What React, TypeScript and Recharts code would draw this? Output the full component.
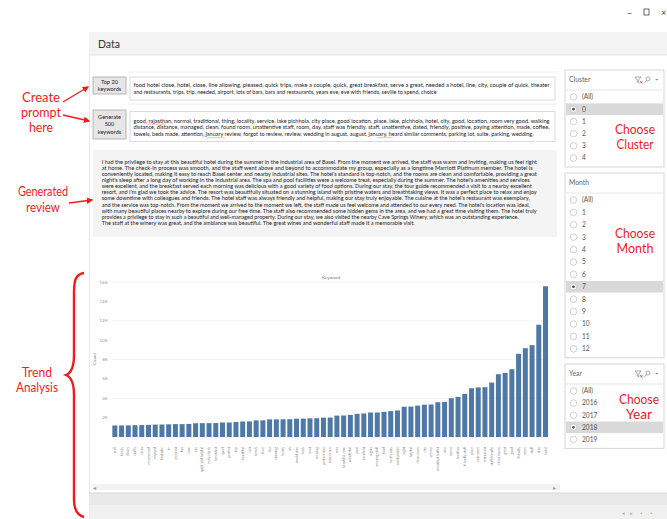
import React from 'react';
import { BarChart, Bar, XAxis, YAxis, CartesianGrid } from 'recharts';

const keywords = [
  'wall', 'family', 'floors', "staff's", 'clean', 'recommend', 'enjoyed', 'fantastic', 'tv', 'pleasant',
  'fun', 'view', 'july', 'quiet and helpful', 'early check', 'breakfast', 'quiet', 'perfect', 'trip', 'beautiful',
  'visit', 'beach', 'time', 'bar', 'stunning', 'lovely', 'ok', 'would stay', 'back', 'best',
  'amazing', 'perfect stay', 'experience', 'area', 'beautiful view', 'wonderful', 'pool', 'excellent', 'nights', 'amazing staff',
  'food', 'lovely stay', 'comfortable', 'night', 'helpful', 'clean room', 'city', 'service', 'breakfast buffet', 'nice',
  'rooms', 'location', 'friendly staff', 'place', 'view room', 'restaurant', 'staff friendly', 'clean rooms', 'great', 'good',
  'friendly', 'room', 'staff', 'stay', 'hotel',
];

const counts = [
  1190, 1190, 1200, 1220, 1230, 1250, 1280, 1290, 1310, 1330,
  1330, 1350, 1420, 1430, 1430, 1440, 1500, 1500, 1550, 1600,
  1610, 1720, 1720, 1820, 1820, 1830, 1840, 1890, 1900, 1930,
  1940, 2000, 2010, 2210, 2220, 2280, 2390, 2430, 2530, 2530,
  2600, 2670, 2740, 3120, 3140, 3240, 3340, 3350, 3590, 3620,
  4000, 4140, 4450, 5030, 5120, 5140, 5620, 6480, 6620, 7000,
  8590, 9170, 9480, 11590, 15550,
];

const yTicks = [2000, 4000, 6000, 8000, 10000, 12000, 14000, 16000];

const top20Lines = [
  'food hotel close, hotel, close, line allowing, pleased, quick trips, make a couple, quick, great breakfast, serve a great, needed a hotel, line, city, couple of quick, theater',
  'and restaurants, trips, trip, needed, airport, lots of bars, bars and restaurants, years eve, eve with friends, seville to spend, choice',
];
const top20Widths = [416, 303];

const top500Lines = [
  'good, rajasthan, normal, traditional, thing, locality, service, lake pichhola, city place, good location, place, lake, pichhola, hotel, city, good, location, room very good, walking',
  'distance, distance, managed, clean, found room, unattentive staff, room, day, staff was friendly, staff, unattentive, dated, friendly, positive, paying attention, made, coffee,',
  'towels, beds made, attention, january review, forgot to review, review, wedding in august, august, january, heard similar comments, parking lot, suite, parking, wedding,',
];
const top500Widths = [416, 416, 400];

const reviewLines = [
  'I had the privilege to stay at this beautiful hotel during the summer in the industrial area of Basel. From the moment we arrived, the staff was warm and inviting, making us feel right',
  'at home. The check-in process was smooth, and the staff went above and beyond to accommodate my group, especially as a longtime Marriott Platinum member. The hotel is',
  "conveniently located, making it easy to reach Basel center and nearby industrial sites. The hotel's standard is top-notch, and the rooms are clean and comfortable, providing a great",
  "night's sleep after a long day of working in the industrial area. The spa and pool facilities were a welcome treat, especially during the summer. The hotel's amenities and services",
  'were excellent, and the breakfast served each morning was delicious with a good variety of food options. During our stay, the tour guide recommended a visit to a nearby excellent',
  "resort, and I'm glad we took the advice. The resort was beautifully situated on a stunning island with pristine waters and breathtaking views. It was a perfect place to relax and enjoy",
  "some downtime with colleagues and friends. The hotel staff was always friendly and helpful, making our stay truly enjoyable. The cuisine at the hotel's restaurant was exemplary,",
  "and the service was top-notch. From the moment we arrived to the moment we left, the staff made us feel welcome and attended to our every need. The hotel's location was ideal,",
  'with many beautiful places nearby to explore during our free time. The staff also recommended some hidden gems in the area, and we had a great time visiting them. The hotel truly',
  'provides a privilege to stay in such a beautiful and well-managed property. During our stay, we also visited the nearby Cave Springs Winery, which was an outstanding experience.',
  'The staff at the winery was great, and the ambiance was beautiful. The great wines and wonderful staff made it a memorable visit.',
];
const reviewWidths = [435, 431, 435, 428, 430, 435, 428, 428, 435, 417, 313];

const clusterOptions = ['(All)', '0', '1', '2', '3', '4'];
const monthOptions = ['(All)', '1', '2', '3', '4', '5', '6', '7', '8', '9', '10', '11', '12'];
const yearOptions = ['(All)', '2016', '2017', '2018', '2019'];

const data = keywords.map((keyword, i) => ({ keyword, count: counts[i] }));

const UI_FONT = 'Lato, "Open Sans", sans-serif';
const RED = '#f21b1b';

function KeywordTick({ x, y, payload }: any) {
  const ty = y + 2;
  return (
    <text
      x={x}
      y={ty}
      transform={`rotate(-90 ${x} ${ty})`}
      textAnchor="end"
      dominantBaseline="central"
      fontSize={3.4}
      fill="#888"
      fontFamily={UI_FONT}
    >
      {payload.value}
    </text>
  );
}

function FilterPanel({
  title, options, selected, top, rowStep, icons,
}: { title: string; options: string[]; selected: number; top: number; rowStep: number; icons: boolean }) {
  const first = top + 27;
  const bottom = first + (options.length - 1) * rowStep + 9;
  return (
    <g fontFamily={UI_FONT}>
      <rect x={565} y={top} width={99} height={bottom - top} fill="#fff" stroke="#d6d6d6" />
      <text x={569} y={top + 12} fontSize={6.8} fill="#666">{title}</text>
      {icons && (
        <g stroke="#888" fill="none" strokeWidth={0.7}>
          <path d={`M635 ${top + 7} h6 l-2.3 3 v3 l-1.4 -1 v-2 z`} />
          <path d={`M640 ${top + 11} l2.5 2.5 M642.5 ${top + 11} l-2.5 2.5`} stroke="#d33" />
          <circle cx={648} cy={top + 9} r={2} />
          <path d={`M646.5 ${top + 10.5} l-2 2.5`} />
          <path d={`M655 ${top + 9} l1.8 1.8 l1.8 -1.8`} fill="#999" stroke="none" />
        </g>
      )}
      <line x1={566} x2={663} y1={top + 20} y2={top + 20} stroke="#e6e6e6" />
      {options.map((opt, i) => {
        const cy = first + i * rowStep;
        return (
          <g key={opt}>
            {i === selected && <rect x={566} y={cy - 5.8} width={97} height={11.6} fill="#d9d9d9" />}
            <circle cx={573.5} cy={cy} r={3.3} fill="#fff" stroke="#bdbdbd" strokeWidth={0.7} />
            {i === selected && <circle cx={573.5} cy={cy} r={1.4} fill="#555" />}
            <text x={582} y={cy + 2.3} fontSize={6.6} fill="#555">{opt}</text>
          </g>
        );
      })}
    </g>
  );
}

function RedLabel({ x, y, text, w }: { x: number; y: number; text: string; w: number }) {
  return (
    <text
      x={x - w / 2}
      y={y}
      fontSize={13}
      fill={RED}
      fontFamily={UI_FONT}
      textLength={w}
      lengthAdjust="spacingAndGlyphs"
    >
      {text}
    </text>
  );
}

function Dashboard() {
  return (
    <svg width={667} height={519} style={{ position: 'absolute', left: 0, top: 0 }}>
      <defs>
        <marker id="arrow" viewBox="0 0 10 10" refX="8" refY="5" markerWidth="5" markerHeight="5" orient="auto">
          <path d="M0 0 L10 5 L0 10 z" fill={RED} />
        </marker>
      </defs>
      <rect x={0} y={0} width={667} height={519} fill="#fff" />

      {/* window controls */}
      <g fill="#444" fontFamily={UI_FONT} fontSize={9}>
        <text x={627} y={16}>–</text>
        <rect x={644} y={9} width={5} height={6} fill="none" stroke="#444" strokeWidth={0.8} />
        <text x={661} y={16}>×</text>
      </g>

      {/* header */}
      <rect x={89} y={32} width={578} height={23} fill="#f3f3f3" />
      <line x1={89} x2={667} y1={55} y2={55} stroke="#e2e2e2" />
      <text x={98} y={47.5} fontSize={10.5} fill="#333" fontFamily={UI_FONT}>Data</text>
      <line x1={89.5} x2={89.5} y1={55} y2={519} stroke="#e8e8e8" />

      {/* buttons */}
      <g fontFamily={UI_FONT} fontSize={5.6} fill="#222" textAnchor="middle">
        <rect x={93} y={77} width={33} height={17} fill="#e6e6e6" stroke="#a8a8a8" strokeWidth={0.8} />
        <text x={109.5} y={83.5}>Top 20</text>
        <text x={109.5} y={91}>keywords</text>
        <rect x={93} y={110} width={33} height={29} fill="#e6e6e6" stroke="#a8a8a8" strokeWidth={0.8} />
        <text x={109.5} y={118.5}>Generate</text>
        <text x={109.5} y={126}>500</text>
        <text x={109.5} y={134}>keywords</text>
      </g>

      {/* keyword text boxes */}
      <line x1={128} x2={557} y1={72} y2={72} stroke="#eee" />
      <rect x={130} y={77} width={425} height={23} fill="#fff" stroke="#dcdcdc" />
      <line x1={128} x2={557} y1={104} y2={104} stroke="#eee" />
      <rect x={130} y={111.5} width={425} height={30} fill="#fff" stroke="#dcdcdc" />
      <g fontFamily={UI_FONT} fontSize={5.5} fill="#222">
        {top20Lines.map((l, i) => (
          <text key={i} x={133.5} y={87 + i * 7.3} textLength={top20Widths[i]} lengthAdjust="spacingAndGlyphs">{l}</text>
        ))}
        {top500Lines.map((l, i) => (
          <text key={i} x={133.5} y={122.5 + i * 6.7} textLength={top500Widths[i]} lengthAdjust="spacingAndGlyphs">{l}</text>
        ))}
      </g>
      <path d="M148 124.2 q1 0.8 2 0 t2 0 t2 0 t2 0 t2 0 t2 0 t2 0 t2 0 t2 0" stroke="#e53" fill="none" strokeWidth={0.4} />
      <path d="M207 137.6 q1 0.8 2 0 t2 0 t2 0 t2 0 t2 0 t2 0 t2 0 t2 0 t2 0" stroke="#e53" fill="none" strokeWidth={0.4} />
      <path d="M377 137.6 q1 0.8 2 0 t2 0 t2 0 t2 0 t2 0 t2 0 t2 0 t2 0" stroke="#e53" fill="none" strokeWidth={0.4} />

      {/* review */}
      <rect x={93} y={150} width={464} height={87} fill="#f4f4f4" />
      <g fontFamily={UI_FONT} fontSize={5.3} fill="#222">
        {reviewLines.map((l, i) => (
          <text key={i} x={101.7} y={163.8 + i * 6.1} textLength={reviewWidths[i]} lengthAdjust="spacingAndGlyphs">{l}</text>
        ))}
      </g>

      {/* chart titles */}
      <text x={331} y={279} fontSize={4.6} fill="#777" textAnchor="middle" fontFamily={UI_FONT}>Keyword</text>
      <text x={96} y={359} fontSize={4.6} fill="#777" textAnchor="middle" fontFamily={UI_FONT} transform="rotate(-90 96 359)">Count</text>

      {/* scrollbar & footer */}
      <rect x={92} y={484} width={468} height={6} fill="#f2f2f2" />
      <text x={93} y={489.5} fontSize={6} fill="#999" fontFamily={UI_FONT}>◂</text>
      <text x={553} y={489.5} fontSize={6} fill="#999" fontFamily={UI_FONT}>▸</text>
      <rect x={89} y={493} width={578} height={26} fill="#e9e9e9" />
      <line x1={89} x2={667} y1={493} y2={493} stroke="#d6d6d6" />
      <rect x={89} y={505} width={578} height={14} fill="#f0f0f0" />
      <g fill="#aaa" fontSize={5} fontFamily={UI_FONT}>
        <text x={622} y={515}>◂</text>
        <text x={630} y={515}>▸</text>
        <text x={640} y={515}>▪</text>
        <text x={650} y={515}>▪</text>
      </g>

      {/* filters */}
      <FilterPanel title="Cluster" options={clusterOptions} selected={1} top={70} rowStep={12.2} icons />
      <FilterPanel title="Month" options={monthOptions} selected={7} top={173} rowStep={12.4} icons={false} />
      <FilterPanel title="Year" options={yearOptions} selected={3} top={364} rowStep={12.1} icons />

      <RedLabel x={635} y={134} text="Choose" w={40} />
      <RedLabel x={635} y={149} text="Cluster" w={37} />
      <RedLabel x={635} y={238} text="Choose" w={40} />
      <RedLabel x={635} y={253} text="Month" w={37} />
      <RedLabel x={639} y={404} text="Choose" w={40} />
      <RedLabel x={639} y={419} text="Year" w={26} />

      {/* annotations */}
      <RedLabel x={41} y={102} text="Create" w={38} />
      <RedLabel x={41} y={117} text="prompt" w={40} />
      <RedLabel x={41} y={132} text="here" w={24} />
      <line x1={63} y1={102} x2={88} y2={87} stroke={RED} strokeWidth={1.3} markerEnd="url(#arrow)" />
      <line x1={63} y1={115} x2={89} y2={121} stroke={RED} strokeWidth={1.3} markerEnd="url(#arrow)" />

      <RedLabel x={43} y={196} text="Generated" w={50} />
      <RedLabel x={43} y={212} text="review" w={34} />
      <line x1={69} y1={203} x2={92} y2={200} stroke={RED} strokeWidth={1.3} markerEnd="url(#arrow)" />

      <RedLabel x={37} y={377} text="Trend" w={30} />
      <RedLabel x={37} y={392} text="Analysis" w={42} />
      <path
        d="M84 273 C76 274 74 280 74 292 L74 355 C74 368 71 373 66 375 C71 377 74 382 74 395 L74 500 C74 510 77 515 84 517"
        fill="none"
        stroke={RED}
        strokeWidth={2.4}
      />
    </svg>
  );
}

export default function App() {
  return (
    <div style={{ position: 'absolute', left: 0, top: 0, width: 667, height: 519, overflow: 'hidden' }}>
      <Dashboard />
      <div style={{ position: 'absolute', left: 90, top: 265 }}>
        <BarChart
          width={470}
          height={220}
          data={data}
          margin={{ top: 17, right: 11, bottom: 0, left: 3.6 }}
          barCategoryGap="11%"
        >
          <CartesianGrid vertical={false} stroke="#f0f0f0" strokeWidth={0.8} />
          <XAxis
            dataKey="keyword"
            interval={0}
            height={48}
            tick={<KeywordTick />}
            tickLine={false}
            axisLine={false}
          />
          <YAxis
            width={18}
            domain={[0, 16000]}
            ticks={yTicks}
            tickFormatter={(v: number) => `${v / 1000}K`}
            tick={{ fontSize: 4.4, fill: '#999', fontFamily: UI_FONT }}
            tickLine={false}
            tickSize={2}
            tickMargin={2}
            axisLine={false}
          />
          <Bar dataKey="count" fill="#4e79a7" isAnimationActive={false} />
        </BarChart>
      </div>
    </div>
  );
}
